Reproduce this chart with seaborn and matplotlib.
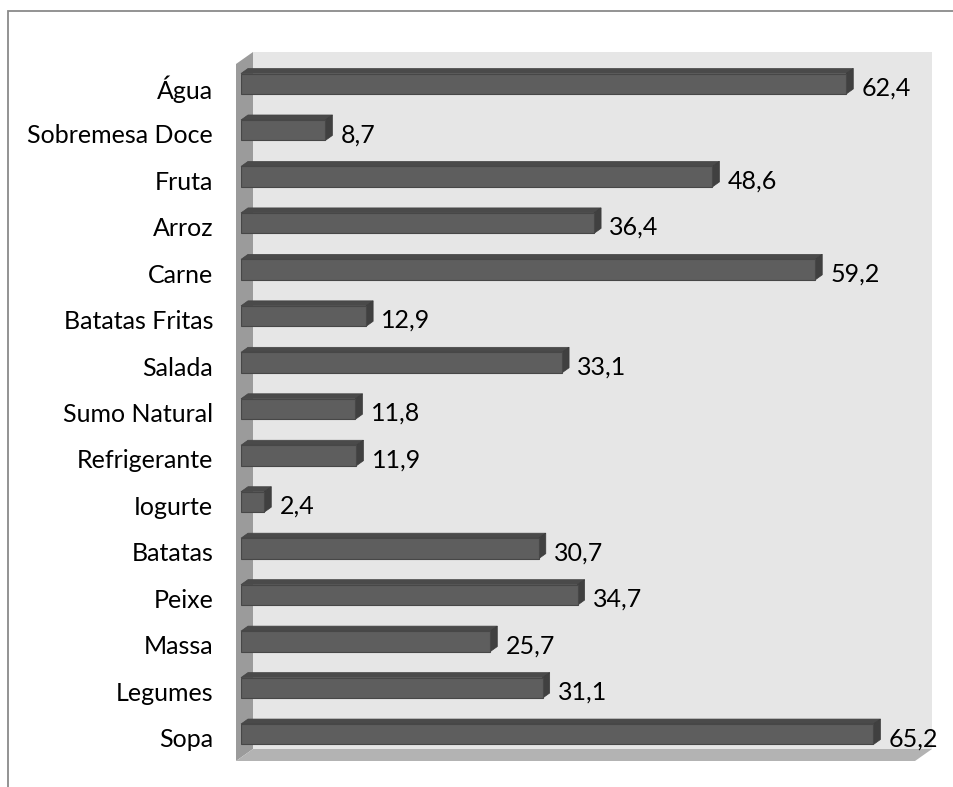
import matplotlib
matplotlib.use("Agg")
import numpy as np
import pandas as pd
import matplotlib.pyplot as plt
import seaborn as sns
from matplotlib.patches import Polygon, Rectangle
from matplotlib.transforms import IdentityTransform, ScaledTranslation

# Percentages per food / drink item (top to bottom)
categories = ["Água", "Sobremesa Doce", "Fruta", "Arroz", "Carne",
              "Batatas Fritas", "Salada", "Sumo Natural", "Refrigerante",
              "Iogurte", "Batatas", "Peixe", "Massa", "Legumes", "Sopa"]
values = [62.4, 8.7, 48.6, 36.4, 59.2, 12.9, 33.1, 11.8, 11.9,
          2.4, 30.7, 34.7, 25.7, 31.1, 65.2]
x_max = 70

sns.set_theme(style="white")
plt.rcParams["font.family"] = ["Lato", "DejaVu Sans"]

DPI = 100
W, H = 954, 787
fig = plt.figure(figsize=(W / DPI, H / DPI), dpi=DPI)

# Axes spans the plane of the bars' front faces (pixel box)
left_px, right_px = 241, 920
top_px, bot_px = 60.5, 757.5
ax = fig.add_axes([left_px / W, 1 - bot_px / H,
                   (right_px - left_px) / W, (bot_px - top_px) / H])

df = pd.DataFrame({"item": categories, "pct": values})
sns.barplot(data=df, x="pct", y="item", orient="h", color="#5e5e5e",
            width=0.44, saturation=1, ax=ax, edgecolor="#474747",
            linewidth=0.8, zorder=5)
ax.set_xlim(0, x_max)
ax.set_ylim(len(categories) - 0.5, -0.5)
ax.patch.set_visible(False)
for s in ax.spines.values():
    s.set_visible(False)
ax.set_xticks([])
ax.set_xlabel("")
ax.set_ylabel("")

# 3-D depth offsets in display pixels (y up)
front = np.array([-5.0, -3.5])
back = np.array([12.0, 8.5])
bar_depth = np.array([7.0, 5.0])

T = ax.transData.transform
n = len(categories)
bl = T((0, n - 0.5)); br = T((x_max, n - 0.5))
tl = T((0, -0.5)); tr = T((x_max, -0.5))

def poly(pts, face, z, edge="none", lw=0.0):
    p = Polygon(np.array(pts), closed=True, transform=IdentityTransform(),
                facecolor=face, edgecolor=edge, lw=lw, zorder=z, clip_on=False)
    ax.add_artist(p)

# back wall
poly([bl + back, br + back, tr + back, tl + back], "#e6e6e6", 0.1)
# left side wall
poly([bl + front, bl + back, tl + back, tl + front], "#9b9b9b", 0.2)
# floor
poly([bl + front, br + front, br + back, bl + back], "#b3b3b3", 0.2)

# top and end faces of each bar
for p in ax.containers[0]:
    x0, y0 = p.get_x(), p.get_y()
    x1, y1 = x0 + p.get_width(), y0 + p.get_height()
    (ax0, ay0), (ax1, ay1) = T([(x0, y0), (x1, y1)])
    xmin, xmax = min(ax0, ax1), max(ax0, ax1)
    ymin, ymax = min(ay0, ay1), max(ay0, ay1)
    d = bar_depth
    top = [(xmin, ymax), (xmax, ymax), (xmax + d[0], ymax + d[1]), (xmin + d[0], ymax + d[1])]
    end = [(xmax, ymin), (xmax, ymax), (xmax + d[0], ymax + d[1]), (xmax + d[0], ymin + d[1])]
    poly(top, "#4a4a4a", 4, "#444444", 0.5)
    poly(end, "#404040", 4, "#3a3a3a", 0.5)

# category labels
ax.tick_params(axis="y", length=0, pad=20, labelsize=18, labelcolor="black")
shift = ScaledTranslation(0, -3.5 / DPI, fig.dpi_scale_trans)
for lab in ax.get_yticklabels():
    lab.set_transform(lab.get_transform() + shift)

# value labels with decimal comma
anns = ax.bar_label(ax.containers[0], fmt=lambda v: f"{v:.1f}".replace(".", ","),
                    padding=11, fontsize=18, color="black")
for a in anns:
    a.xyann = (11, -3.2)

# chart frame
fig.add_artist(Rectangle((8 / W, -0.1), 1.2, (H - 11) / H + 0.1,
                         transform=fig.transFigure, fill=False,
                         edgecolor="#8a8a8a", lw=1.3))

fig.savefig("out.png", dpi=DPI)
